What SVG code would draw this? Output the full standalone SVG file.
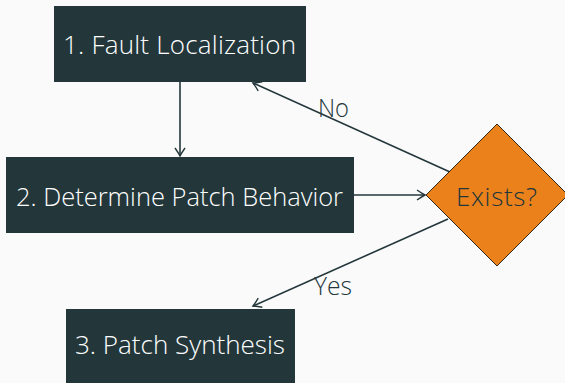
<svg xmlns="http://www.w3.org/2000/svg" width="565" height="383" viewBox="0 0 565 383">
<style>
.box{fill:#23373b}
.lbl{font-family:"Open Sans","Noto Sans",sans-serif;font-size:26px;font-weight:300;fill:#ffffff}
.dark{fill:#23373b}
.edge{stroke:#23373b;stroke-width:1.6;fill:none}
.elbl{font-family:"Open Sans","Noto Sans",sans-serif;font-size:26px;font-weight:300;fill:#23373b}
</style>
<defs>
<marker id="arr" viewBox="-9 -6 11 12" refX="0" refY="0" markerWidth="11" markerHeight="12" markerUnits="userSpaceOnUse" orient="auto">
<path d="M-8,-5 Q-3,-1.5 0,0 Q-3,1.5 -8,5" fill="none" stroke="#23373b" stroke-width="1.4"/>
</marker>
</defs>
<rect width="565" height="383" fill="#fafafa"/>
<g id="connectors">
<line class="edge" x1="180" y1="82" x2="180" y2="156" marker-end="url(#arr)"/>
<line class="edge" x1="354" y1="195" x2="425" y2="195" marker-end="url(#arr)"/>
<line class="edge" x1="450" y1="172" x2="253" y2="83" marker-end="url(#arr)"/>
<line class="edge" x1="448" y1="219" x2="253" y2="306" marker-end="url(#arr)"/>
<text class="elbl" x="318" y="116.5" textLength="31" lengthAdjust="spacingAndGlyphs">No</text>
<text class="elbl" x="314" y="295" textLength="38" lengthAdjust="spacingAndGlyphs">Yes</text>
</g>
<g id="n1">
<rect class="box" x="54" y="6" width="252" height="76"/>
<text class="lbl" x="63" y="53.5" textLength="233">1. Fault Localization</text>
</g>
<g id="n2">
<rect class="box" x="6" y="157" width="348" height="76"/>
<text class="lbl" x="16" y="206" textLength="327" lengthAdjust="spacingAndGlyphs">2. Determine Patch Behavior</text>
</g>
<g id="n3">
<rect class="box" x="66" y="309" width="229" height="76"/>
<text class="lbl" x="75" y="354" textLength="210" lengthAdjust="spacingAndGlyphs">3. Patch Synthesis</text>
</g>
<g id="decision">
<polygon points="497,124 568,195 497,266 426,195" fill="#eb811b" stroke="#000000" stroke-width="0.8"/>
<text class="lbl" x="456" y="205.5" textLength="81" style="fill:#23373b">Exists?</text>
</g>
</svg>
